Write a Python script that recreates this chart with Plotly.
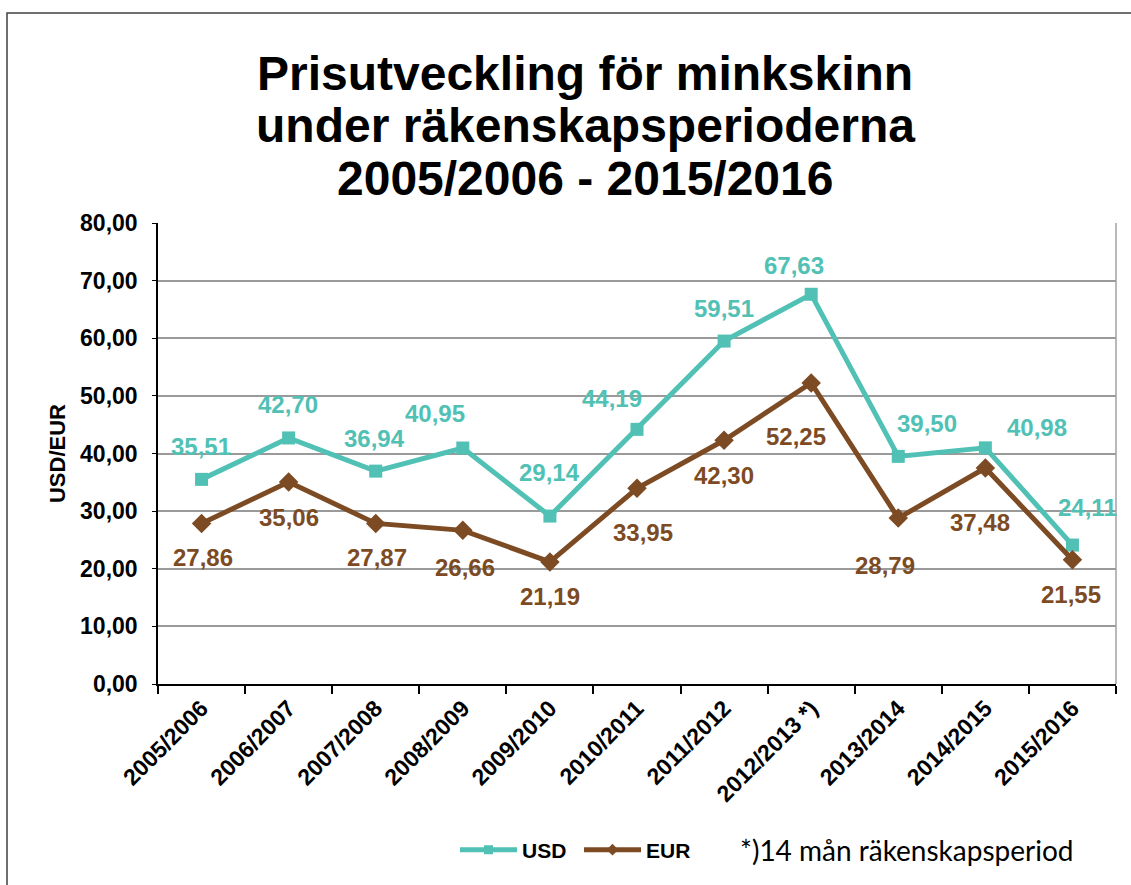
import plotly.graph_objects as go

# ---- data ----
periods = ["2005/2006", "2006/2007", "2007/2008", "2008/2009", "2009/2010",
           "2010/2011", "2011/2012", "2012/2013 *)", "2013/2014", "2014/2015", "2015/2016"]
usd = [35.51, 42.70, 36.94, 40.95, 29.14, 44.19, 59.51, 67.63, 39.50, 40.98, 24.11]
eur = [27.86, 35.06, 27.87, 26.66, 21.19, 33.95, 42.30, 52.25, 28.79, 37.48, 21.55]

# label offsets in screen pixels (dx right, dy down)
usd_off = [(-1, -33), (-1, -33), (-1, -33), (-28, -35), (0, -44), (-25, -31),
           (0, -33), (-17, -29), (29, -33), (52, -20), (15, -38)]
eur_off = [(1, 34), (0, 36), (1, 34), (2, 37), (0, 35), (6, 44),
           (0, 35), (-15, 54), (-13, 47), (-5, 54), (-1, 35)]

TEAL = "#50C1B4"
BROWN = "#7D4B23"
FONT = "Liberation Sans"

W, H = 1131, 885
L, R, T, B = 158, 15, 223, 201
PW, PH = W - L - R, H - T - B


def px(x):
    return (x - L) / PW


def py(y):
    return (H - B - y) / PH


fig = go.Figure()
fig.add_trace(go.Scatter(x=periods, y=usd, name="USD", mode="lines+markers",
                         line=dict(color=TEAL, width=5), showlegend=False,
                         marker=dict(symbol="square", size=13, color=TEAL)))
fig.add_trace(go.Scatter(x=periods, y=eur, name="EUR", mode="lines+markers",
                         line=dict(color=BROWN, width=5), showlegend=False,
                         marker=dict(symbol="diamond", size=15, color=BROWN)))
# legend entries (smaller legend symbols, no data drawn)
fig.add_trace(go.Scatter(x=[None], y=[None], name="USD", mode="lines+markers",
                         line=dict(color=TEAL, width=5),
                         marker=dict(symbol="square", size=9, color=TEAL)))
fig.add_trace(go.Scatter(x=[None], y=[None], name="EUR", mode="lines+markers",
                         line=dict(color=BROWN, width=5),
                         marker=dict(symbol="diamond", size=9, color=BROWN)))


def fmt(v):
    return f"{v:.2f}".replace(".", ",")


annotations = []
for series, offs, col in ((usd, usd_off, TEAL), (eur, eur_off, BROWN)):
    for cat, v, (dx, dy) in zip(periods, series, offs):
        annotations.append(dict(x=cat, y=v, xref="x", yref="y", text=fmt(v),
                                showarrow=False, xshift=dx, yshift=-dy,
                                xanchor="center", yanchor="middle",
                                font=dict(family=FONT, size=24, color=col, weight="bold")))

title_lines = ["Prisutveckling för minkskinn", "under räkenskapsperioderna",
               "2005/2006 - 2015/2016"]
for line, yc in zip(title_lines, [73, 126, 179]):
    annotations.append(dict(x=px(585), y=py(yc), xref="paper", yref="paper",
                            text=f"<b>{line}</b>", showarrow=False,
                            xanchor="center", yanchor="middle",
                            font=dict(family=FONT, size=48, color="black")))

annotations.append(dict(x=px(738), y=py(850), xref="paper", yref="paper",
                        text="*)14 mån räkenskapsperiod", showarrow=False,
                        xanchor="left", yanchor="middle",
                        font=dict(family="Lato", size=28, color="black")))

shapes = [
    # outer chart border
    dict(type="rect", xref="paper", yref="paper",
         x0=px(7), x1=px(1145), y0=py(900), y1=py(13),
         line=dict(color="#404040", width=1.5), fillcolor="rgba(0,0,0,0)", layer="below"),
    # right plot-area border
    dict(type="line", xref="x domain", yref="y domain", x0=1, x1=1, y0=0, y1=1,
         line=dict(color="#a0a0a0", width=1.5)),
]

fig.update_layout(
    width=W, height=H,
    margin=dict(l=L, r=R, t=T, b=B, autoexpand=False),
    paper_bgcolor="white", plot_bgcolor="white",
    separators=", ",
    showlegend=True,
    legend=dict(orientation="h", x=px(455), y=py(850), xanchor="left", yanchor="middle",
                font=dict(family=FONT, size=21, color="black", weight="bold"),
                itemwidth=57, entrywidth=52, entrywidthmode="pixels",
                bgcolor="rgba(0,0,0,0)", tracegroupgap=0),
    annotations=annotations,
    shapes=shapes,
    xaxis=dict(type="category", range=[-0.5, len(periods) - 0.5],
               tickson="boundaries", ticks="outside", ticklen=8,
               tickcolor="black", tickwidth=1.5,
               showline=True, linecolor="black", linewidth=1.5,
               showgrid=False, tickangle=-45,
               tickfont=dict(family=FONT, size=23, color="black", weight="bold")),
    xaxis2=dict(overlaying="x", anchor="y", side="bottom", range=[-0.5, len(periods) - 0.5],
                tickvals=[i - 0.5 for i in range(len(periods) + 1)], ticks="inside", ticklen=7,
                tickcolor="black", tickwidth=1.5, showticklabels=False,
                showgrid=False, zeroline=False, showline=False),
    yaxis=dict(range=[0, 80], dtick=10, tickformat=".2f",
               showgrid=True, gridcolor="#9a9a9a", gridwidth=1.5,
               zeroline=False, showline=True, linecolor="black", linewidth=1.5,
               ticks="outside", ticklen=4, tickcolor="black", ticklabelstandoff=10,
               tickfont=dict(family=FONT, size=23, color="black", weight="bold"),
               title=dict(text="USD/EUR", standoff=8,
                          font=dict(family=FONT, size=22, color="black", weight="bold"))),
)

fig.write_html("out.html", config={"displayModeBar": False},
               post_script="document.body.style.margin='0';document.body.style.overflow='hidden';")
